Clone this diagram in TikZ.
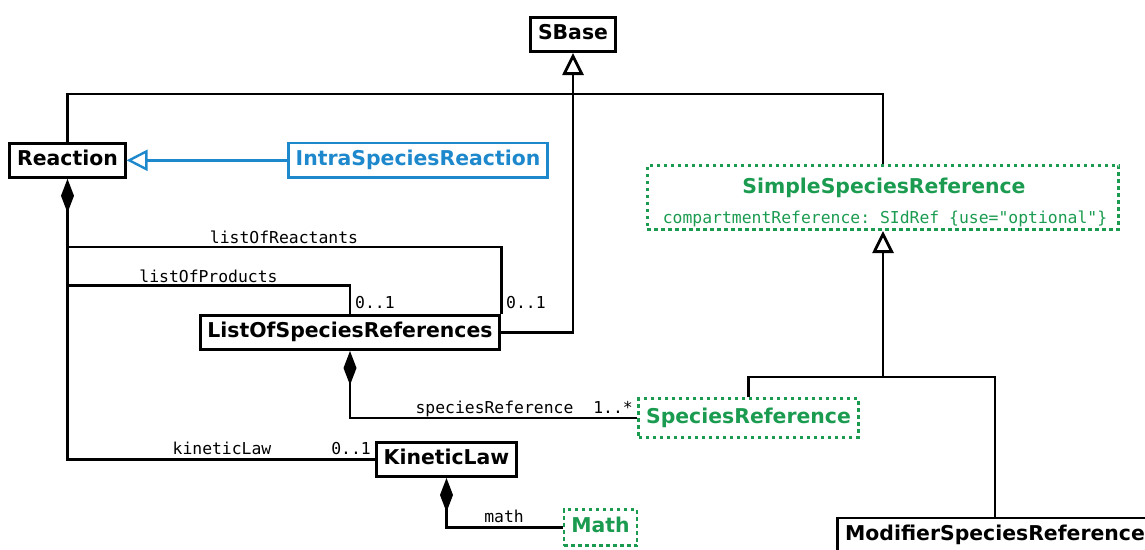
\documentclass[tikz,border=0pt]{standalone}
\usepackage{fontspec}
\setmainfont{DejaVu Sans}
\setmonofont{DejaVu Sans Mono}
\usetikzlibrary{arrows.meta}
\definecolor{isrblue}{HTML}{1E88CC}
\definecolor{sbmlgreen}{HTML}{1A9B50}
\newcommand\clsfont{\fontsize{20.4}{24}\selectfont\bfseries}
\newcommand\lblfont{\fontsize{16.4}{19}\selectfont\ttfamily}
\begin{document}
\begin{tikzpicture}[x=1pt,y=-1pt,
  cls/.style={draw, line width=2.8pt, inner xsep=7.3pt, inner ysep=0pt,
    minimum height=34.2pt, text height=14.9pt, text depth=4.4pt, font=\clsfont},
  gcls/.style={cls, draw=sbmlgreen, text=sbmlgreen, dash pattern=on 3.5pt off 3.5pt},
  gbox/.style={draw=sbmlgreen, line width=2.8pt, dash pattern=on 3.5pt off 3.5pt, inner sep=0pt},
  conn/.style={line width=2.8pt},
  lbl/.style={font=\lblfont, inner sep=0pt, anchor=base},
  gen/.style={-{Triangle[open,length=22pt,width=21pt]}},
  comp/.style={{Diamond[length=34pt,width=13pt]}-}
]
\useasboundingbox (0,0) rectangle (1145,549);
\clip (0,0) rectangle (1145,549);

% classes
\node[cls] (sbase) at (573,34.5) {SBase};
\node[cls] (reaction) at (67.5,160.3) {Reaction};
\node[cls, draw=isrblue, text=isrblue, line width=2.4pt] (intra) at (418,160.3) {IntraSpeciesReaction};
\node[cls] (losr) at (350,332.5) {ListOfSpeciesReferences};
\node[cls] (kl) at (446.5,459.5) {KineticLaw};
\node[gcls, minimum height=38.7pt] (sr) at (748.5,418) {SpeciesReference};
\node[gcls, minimum height=36.2pt] (math) at (600.5,527.5) {Math};
\node[gbox, minimum width=471.2pt, minimum height=64.2pt] (ssr) at (883,197.5) {};
\node[lbl, font=\clsfont, text=sbmlgreen] (ssrtitle) at (884,193) {SimpleSpeciesReference};
\node[lbl, text=sbmlgreen] (ssrattr) at (885,223.5) {compartmentReference: SIdRef \{use="optional"\}};
\node[cls, minimum height=35pt] (msr) at (995,535.5) {ModifierSpeciesReference};

% helper coordinates
\coordinate (top) at (573,94);
\coordinate (ra) at (67.5,247);
\coordinate (rp) at (67.5,285.5);
\coordinate (sj) at (883,377);

% inheritance from SBase
\draw[conn] (reaction.north) |- (top) -| (ssr.north);
\draw[conn, gen] (losr.east) -| (sbase.south);

% IntraSpeciesReaction -> Reaction
\draw[isrblue, line width=2.4pt, -{Triangle[open,length=21pt,width=21pt]}] (intra.west) -- (reaction.east);

% compositions
\draw[conn, comp] (reaction.south) |- (kl.west);
\draw[conn] (ra) -| (losr.north east);
\draw[conn] (rp) -| (losr.north);
\draw[conn, comp] (losr.south) |- (sr.west);
\draw[conn, comp] (kl.south) |- (math.west);

% inheritance from SimpleSpeciesReference
\draw[conn] (sr.north) |- (sj) -| (msr.north);
\draw[conn, gen] (sj) -- (ssr.south);

% labels
\node[lbl] (lr) at (284,243) {listOfReactants};
\node[lbl] (lp) at (208.5,282) {listOfProducts};
\node[lbl, anchor=base west] (m1) at (355,308) {0..1};
\node[lbl, anchor=base west] (m2) at (506,308) {0..1};
\node[lbl] (lsr) at (494.5,413) {speciesReference};
\node[lbl] (m3) at (613,413) {1..*};
\node[lbl] (lkl) at (222,454) {kineticLaw};
\node[lbl] (m4) at (351,454) {0..1};
\node[lbl] (lm) at (504,522.5) {math};
\end{tikzpicture}
\end{document}
